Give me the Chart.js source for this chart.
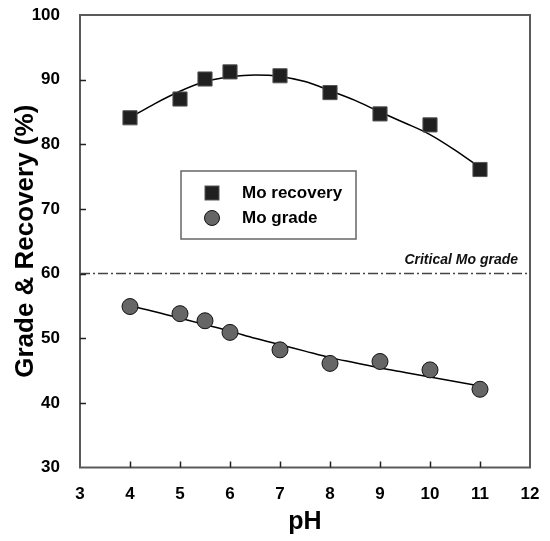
<!DOCTYPE html>
<html>
<head>
<meta charset="utf-8">
<script src="https://cdn.jsdelivr.net/npm/chart.js@4.4.0/dist/chart.umd.min.js"></script>
<style>
  html, body { margin: 0; padding: 0; background: #fff; }
  #wrap { width: 550px; height: 541px; }
</style>
</head>
<body>
<div id="wrap"><canvas id="c" width="550" height="541"></canvas></div>
<script>
// ---- data ----
const pH = [4, 5, 5.5, 6, 7, 8, 9, 10, 11];
const moRecovery = [84.1, 87.0, 90.1, 91.2, 90.6, 88.0, 84.7, 83.0, 76.1];
const moGrade = [54.9, 53.8, 52.7, 50.9, 48.2, 46.1, 46.4, 45.1, 42.1];

const fitPH = [4, 4.5, 5, 5.5, 6, 6.5, 7, 7.5, 8, 8.5, 9, 9.5, 10, 10.5, 11];
const recoveryFit = [84.1, 86.3, 88.2, 89.7, 90.4, 90.7, 90.5, 89.7, 88.3, 86.8, 85.0, 83.3, 81.5, 79.1, 76.4];
const gradeFit = [55.0, 54.1, 53.1, 52.1, 51.1, 50.0, 49.0, 48.0, 47.0, 46.2, 45.4, 44.7, 44.0, 43.3, 42.6];

const criticalGrade = 60;
const xRange = [3, 12];
const yRange = [30, 100];
const legendLabels = ['Mo recovery', 'Mo grade'];
const criticalLabel = 'Critical Mo grade';
const xTitle = 'pH';
const yTitle = 'Grade & Recovery (%)';

const FONT = "'Liberation Sans', Arial, Helvetica, sans-serif";

const toXY = (xs, ys) => xs.map((x, i) => ({ x: x, y: ys[i] }));

const framePlugin = {
  id: 'framePlugin',
  afterDatasetsDraw(chart) {
    const ctx = chart.ctx;
    const a = chart.chartArea;
    const xs = chart.scales.x, ys = chart.scales.y;
    ctx.save();
    // frame
    ctx.strokeStyle = '#5a5a5a';
    ctx.lineWidth = 2;
    ctx.strokeRect(a.left, a.top, a.right - a.left, a.bottom - a.top);
    // inward ticks
    ctx.strokeStyle = '#222';
    ctx.lineWidth = 1.5;
    ctx.beginPath();
    xs.ticks.forEach(t => {
      const px = Math.round(xs.getPixelForValue(t.value)) + 0.5;
      if (t.value === xRange[0] || t.value === xRange[1]) return;
      ctx.moveTo(px, a.bottom);
      ctx.lineTo(px, a.bottom - 6);
    });
    ys.ticks.forEach(t => {
      const py = Math.round(ys.getPixelForValue(t.value)) + 0.5;
      if (t.value === yRange[0] || t.value === yRange[1]) return;
      ctx.moveTo(a.left, py);
      ctx.lineTo(a.left + 6, py);
    });
    ctx.stroke();

    // critical label
    ctx.fillStyle = '#111';
    ctx.font = "italic bold 14px " + FONT;
    ctx.textAlign = 'right';
    ctx.textBaseline = 'middle';
    ctx.fillText(criticalLabel, xs.getPixelForValue(12) - 12, ys.getPixelForValue(criticalGrade) - 13);

    // legend box
    const bx = 181, by = 171, bw = 175, bh = 68;
    ctx.fillStyle = '#fff';
    ctx.fillRect(bx, by, bw, bh);
    ctx.strokeStyle = '#666';
    ctx.lineWidth = 1.5;
    ctx.strokeRect(bx, by, bw, bh);
    const d0 = chart.data.datasets[0], d1 = chart.data.datasets[1];
    // square marker
    ctx.fillStyle = d0.backgroundColor;
    ctx.strokeStyle = d0.borderColor;
    ctx.lineWidth = 1;
    ctx.fillRect(205, 186, 14, 14);
    ctx.strokeRect(205, 186, 14, 14);
    // circle marker
    ctx.beginPath();
    ctx.arc(212, 218, 7.5, 0, Math.PI * 2);
    ctx.fillStyle = d1.backgroundColor;
    ctx.fill();
    ctx.strokeStyle = d1.borderColor;
    ctx.stroke();
    ctx.fillStyle = '#000';
    ctx.font = "bold 17px " + FONT;
    ctx.textAlign = 'left';
    ctx.textBaseline = 'middle';
    ctx.fillText(legendLabels[0], 242, 193);
    ctx.fillText(legendLabels[1], 242, 218);
    ctx.restore();
  }
};

new Chart(document.getElementById('c'), {
  type: 'scatter',
  data: {
    datasets: [
      {
        label: legendLabels[0],
        data: toXY(pH, moRecovery),
        pointStyle: 'rect',
        pointRadius: 10,
        backgroundColor: '#202020',
        borderColor: '#555',
        borderWidth: 1,
        showLine: false,
        order: 0
      },
      {
        label: legendLabels[1],
        data: toXY(pH, moGrade),
        pointStyle: 'circle',
        pointRadius: 8,
        backgroundColor: '#666666',
        borderColor: '#111',
        borderWidth: 1,
        showLine: false,
        order: 0
      },
      {
        label: 'recovery fit',
        data: toXY(fitPH, recoveryFit),
        showLine: true,
        pointRadius: 0,
        borderColor: '#000',
        borderWidth: 1.5,
        cubicInterpolationMode: 'monotone',
        order: 1
      },
      {
        label: 'grade fit',
        data: toXY(fitPH, gradeFit),
        showLine: true,
        pointRadius: 0,
        borderColor: '#000',
        borderWidth: 1.5,
        cubicInterpolationMode: 'monotone',
        order: 1
      },
      {
        label: 'critical',
        data: toXY(xRange, [criticalGrade, criticalGrade]),
        showLine: true,
        pointRadius: 0,
        borderColor: '#444',
        borderWidth: 1.5,
        borderDash: [10, 3, 2, 3],
        order: 2
      }
    ]
  },
  options: {
    responsive: false,
    animation: false,
    devicePixelRatio: 1,
    layout: { padding: { left: 0, right: 20, top: 15, bottom: 0 } },
    plugins: { legend: { display: false }, tooltip: { enabled: false } },
    scales: {
      x: {
        type: 'linear',
        min: xRange[0], max: xRange[1],
        grid: { display: false },
        border: { display: false },
        ticks: { stepSize: 1, color: '#000', padding: 9, font: { family: FONT, weight: 'bold', size: 17 } },
        title: { display: true, text: xTitle, color: '#000', padding: { top: 0, bottom: 4 }, font: { family: FONT, weight: 'bold', size: 25 } },
        afterFit: (s) => { s.height = 73.5; s.paddingLeft = 0; s.paddingRight = 0; }
      },
      y: {
        type: 'linear',
        min: yRange[0], max: yRange[1],
        grid: { display: false },
        border: { display: false },
        ticks: { stepSize: 10, color: '#000', padding: 12, font: { family: FONT, weight: 'bold', size: 17 } },
        title: { display: true, text: yTitle, color: '#000', padding: { top: 10, bottom: 0 }, font: { family: FONT, weight: 'bold', size: 26 } },
        afterFit: (s) => { s.width = 80; s.paddingTop = 0; s.paddingBottom = 0; }
      }
    }
  },
  plugins: [framePlugin]
});
</script>
</body>
</html>
